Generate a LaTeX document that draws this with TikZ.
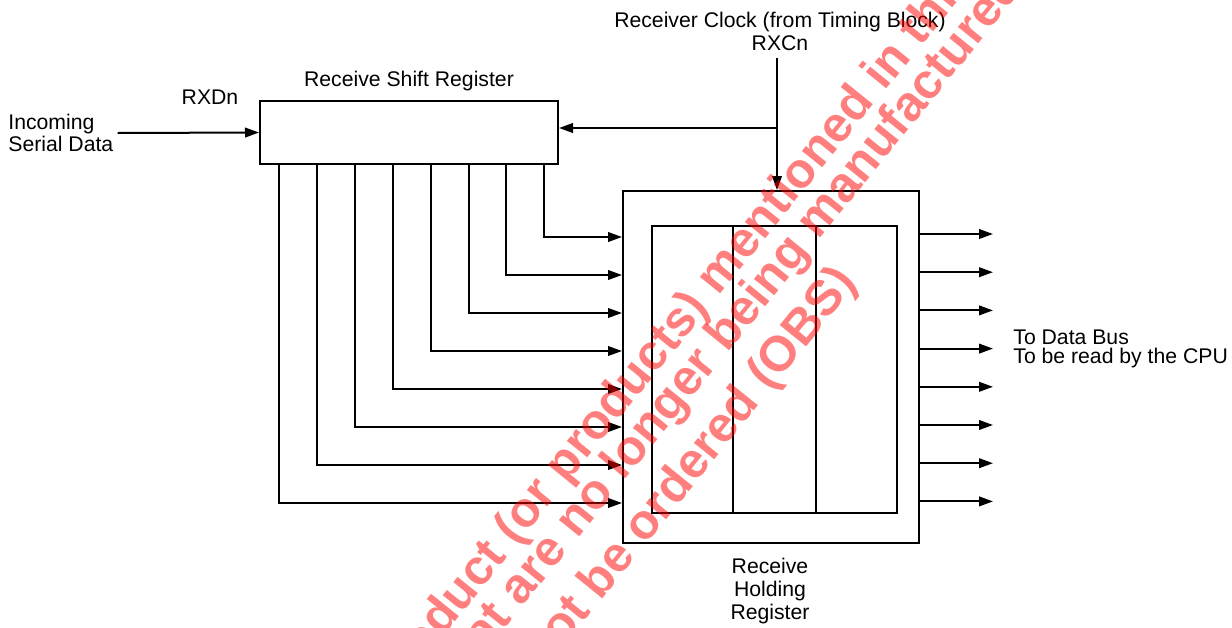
\documentclass[tikz,border=0pt]{standalone}
\usepackage{fontspec}
\setmainfont{Liberation Sans}
\usepackage{tikz}
\usetikzlibrary{positioning,arrows.meta,calc}

\begin{document}
\begin{tikzpicture}[x=0.5pt, y=-0.5pt,
  font=\fontsize{10.6}{11.5}\selectfont,
  reg/.style={draw, line width=1pt, inner sep=0pt},
  wire/.style={line width=1pt},
  lbl/.style={inner sep=0pt, align=center},
  tight/.style={font=\fontsize{10.6}{9.5}\selectfont},
  obs/.style={text=red, text opacity=0.5, font=\fontsize{24.7}{24.7}\selectfont\bfseries, anchor=base west, inner sep=0pt, rotate=51},
  >={Triangle[length=7pt, width=4.8pt]}]
\useasboundingbox (0,0) rectangle (1232,627);
\node[reg, minimum width=149pt, minimum height=31.5pt] (rsr) at (409,132.5) {};
\node[reg, minimum width=148pt, minimum height=176pt] (rhr) at (771,367) {};
\node[reg, minimum width=122.5pt, minimum height=143.5pt] (cells) at (774.5,369.5) {};
\draw[wire] ($(cells.north west)!1/3!(cells.north east)$) -- ($(cells.south west)!1/3!(cells.south east)$);
\draw[wire] ($(cells.north west)!2/3!(cells.north east)$) -- ($(cells.south west)!2/3!(cells.south east)$);
\node[lbl] (rsrname) at (409,81) {Receive Shift Register};
\node[lbl] (rxd) at (210,97) {RXDn};
\node[lbl, tight, anchor=west, align=left] (rxin) at (8,133) {Incoming\\Serial Data};
\draw[wire,->] ([xshift=2pt]rxin.east) -- (rsr.west);
\node[lbl, inner sep=3.5pt] (clk) at (780,31) {Receiver Clock (from Timing Block)\\RXCn};
\coordinate (tap) at (777,128);
\draw[wire,->] (clk.south -| tap) -- (rhr.north -| tap);
\draw[wire,->] (tap) -- (rsr.east |- tap);
\foreach \i [evaluate=\i as \x using 279+37.9*\i, evaluate=\i as \y using 503-38*\i] in {0,...,7} {
  \draw[wire,->] (rsr.south -| \x,0) |- (rhr.west |- 0,\y);
}
\foreach \i [evaluate=\i as \y using 234+38.2*\i] in {0,...,7} {
  \coordinate (out\i) at (993,\y);
  \draw[wire,->] (rhr.east |- out\i) -- (out\i);
}
\node[lbl] (rhrname) at (770,591) {Receive\\Holding\\Register};
\node[lbl, tight, anchor=west, align=left] (bus) at (1013,349) {To Data Bus\\To be read by the CPU};
\begin{scope}
\clip (0,0) rectangle (1232,627);
\node[obs] (wm1) at (392,700) {product (or products) mentioned in this};
\node[obs] (wm2) at (456,689) {that are no longer being manufactured};
\node[obs] (wm3) at (489.5,737.8) {cannot be ordered (OBS)};
\end{scope}
\end{tikzpicture}
\end{document}
